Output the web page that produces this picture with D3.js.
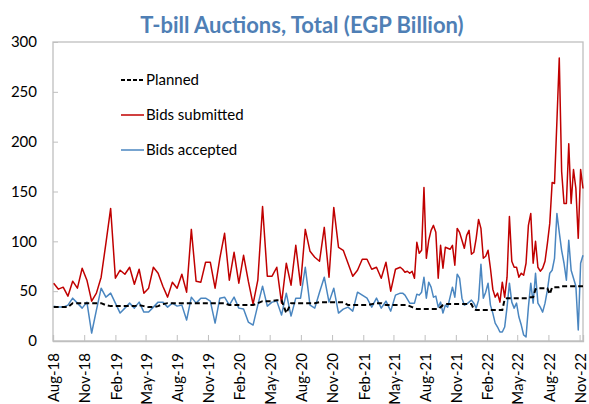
<!DOCTYPE html>
<html lang="en">
<head>
    <title>T-bill Auctions, Total</title>
    <script src="https://d3js.org/d3.v7.min.js" charset="utf-8"></script>
    <style>
        body { margin: 0; background: #fff; }
        text { font-family: Lato, "Open Sans", sans-serif; }
    </style>
</head>
<body>
    <script>
        // Auction values, EGP billion. First part is every two weeks,
        // from late May 2021 the auctions are weekly.
        var biweeklyCount = 74;

        var submitted = [
            58,52,54,45,60,53,73,61,40,48, 64,98,133,63,71,67,74,57,72,48,
            53,74,68,55,44,59,53,67,49,112, 60,59,79,79,53,83,108,61,89,58,
            86,60,37,61,135,65,65,74,38,78, 56,96,56,112,90,84,80,114,64,134,
            94,91,78,65,71,82,82,72,74,63, 79,50,72,74,
            72,69,70,68,70,63,99,88,91,154, 83,101,111,116,109,63,96,73,94,93,
            92,96,76,113,109,101,93,106,111,87, 89,103,122,113,83,85,91,73,
            52,44,48,39,59,44,64,125,80,74, 74,64,68,66,78,116,128,78,100,74,
            70,73,80,98,118,159,158,220,284,170, 138,138,198,138,172,153,103,172,153
        ];

        var accepted = [
            35,34,34,36,43,38,33,39,8,31, 53,44,48,38,28,33,38,33,39,29,
            29,34,39,39,34,38,35,36,21,44, 38,43,43,40,18,43,44,36,44,33,
            32,19,16,36,55,35,39,40,26,48, 25,43,43,74,36,33,49,64,39,53,
            28,32,34,30,49,46,43,34,43,33, 40,30,46,48,
            48,46,42,38,38,38,47,46,49,64, 43,59,54,44,45,34,39,28,36,34,
            44,54,44,67,63,43,36,37,39,41, 38,33,41,77,43,49,58,36,
            28,18,14,9,9,14,34,58,39,33, 38,24,16,6,4,34,58,38,68,38,
            34,29,38,51,68,71,83,128,109,91, 78,61,101,71,63,55,11,78,86
        ];

        var planned = [
            34,34,34,34,38,38,38,38,38,38, 38,36,35,35,35,35,35,35,36,35,
            34,34,35,37,38,38,38,38,38,38, 38,38,38,38,38,38,38,36,36,36,
            36,36,36,38,40,40,40,41,41,28, 38,38,38,38,38,38,39,39,39,39,
            39,39,36,36,36,36,36,37,38,38, 36,36,36,36,
            36,36,36,35,34,33,32,32,32,32, 32,32,32,32,32,32,34,36,37,37,
            37,37,37,37,37,37,37,37,37,37, 32,31,31,31,31,31,31,31,
            31,31,31,31,31,42,43,43,43,43, 43,43,43,43,43,43,44,44,52,53,
            53,53,53,53,47,54,54,54,54,55, 55,55,55,55,55,55,55,55,55
        ];

        var tickLabels = ["Aug-18","Nov-18","Feb-19","May-19","Aug-19","Nov-19",
            "Feb-20","May-20","Aug-20","Nov-20","Feb-21","May-21","Aug-21",
            "Nov-21","Feb-22","May-22","Aug-22","Nov-22"];

        var yTicks = [0, 50, 100, 150, 200, 250, 300];

        var seriesNames = ["Planned", "Bids submitted", "Bids accepted"];

        // Auction dates
        var firstAuction = new Date(2018, 7, 3);
        var dates = submitted.map(function(d, i) {
            var days = i < biweeklyCount ? i * 14 : (biweeklyCount - 1) * 14 + (i - biweeklyCount + 1) * 7;
            return d3.timeDay.offset(firstAuction, days);
        });

        var width = 589;
        var height = 404;
        var plotLeft = 53, plotRight = 583, plotTop = 42, plotBottom = 341;

        var svg = d3.select("body")
            .append("svg")
            .attr("width", width)
            .attr("height", height);

        var x = d3.scaleTime()
            .domain([new Date(2018, 7, 1), dates[dates.length - 1]])
            .range([plotLeft, plotRight]);

        var y = d3.scaleLinear()
            .domain([0, 300])
            .range([plotBottom, plotTop]);

        var tickDates = tickLabels.map(function(d, i) {
            return d3.timeMonth.offset(new Date(2018, 7, 1), i * 3);
        });

        // Title
        svg.append("text")
            .attr("x", 302)
            .attr("y", 33)
            .attr("text-anchor", "middle")
            .attr("font-size", 22)
            .attr("font-weight", "bold")
            .attr("fill", "#4F7FB5")
            .text("T-bill Auctions, Total (EGP Billion)");

        // Plot frame
        svg.append("rect")
            .attr("x", plotLeft)
            .attr("y", plotTop)
            .attr("width", plotRight - plotLeft)
            .attr("height", plotBottom - plotTop)
            .attr("fill", "none")
            .attr("stroke", "#BFBFBF")
            .attr("stroke-width", 1.3);

        // Y axis, ticks pointing inside
        var yAxis = svg.append("g")
            .attr("transform", "translate(" + plotLeft + ",0)")
            .call(d3.axisRight(y).tickValues(yTicks).tickSize(5).tickFormat(""));
        yAxis.select(".domain").remove();
        yAxis.selectAll("line").attr("stroke", "#BFBFBF");

        svg.selectAll(".ylab")
            .data(yTicks)
            .enter()
            .append("text")
            .attr("class", "ylab")
            .attr("x", 37)
            .attr("y", function(d) { return y(d); })
            .attr("dy", "0.35em")
            .attr("text-anchor", "end")
            .attr("font-size", 15)
            .attr("fill", "#000")
            .text(function(d) { return d; });

        // X axis, ticks pointing inside
        var xAxis = svg.append("g")
            .attr("transform", "translate(0," + plotBottom + ")")
            .call(d3.axisTop(x).tickValues(tickDates).tickSize(6).tickFormat(""));
        xAxis.select(".domain").attr("stroke", "#BFBFBF").attr("stroke-width", 1.3);
        xAxis.selectAll("line").attr("stroke", "#BFBFBF");

        svg.selectAll(".xlab")
            .data(tickDates)
            .enter()
            .append("text")
            .attr("class", "xlab")
            .attr("transform", function(d) { return "translate(" + (x(d) + 1) + ",353) rotate(-90)"; })
            .attr("dy", "0.35em")
            .attr("text-anchor", "end")
            .attr("font-size", 15)
            .attr("fill", "#000")
            .text(function(d, i) { return tickLabels[i]; });

        // Lines
        function lineFor(values) {
            return d3.line()
                .x(function(d, i) { return x(dates[i]); })
                .y(function(d) { return y(d); })(values);
        }

        svg.append("path")
            .attr("d", lineFor(submitted))
            .attr("fill", "none")
            .attr("stroke", "#C00000")
            .attr("stroke-width", 1.5)
            .attr("stroke-linejoin", "round");

        svg.append("path")
            .attr("d", lineFor(accepted))
            .attr("fill", "none")
            .attr("stroke", "#4A86C0")
            .attr("stroke-width", 1.5)
            .attr("stroke-linejoin", "round");

        svg.append("path")
            .attr("d", lineFor(planned))
            .attr("fill", "none")
            .attr("stroke", "#000")
            .attr("stroke-width", 2)
            .attr("stroke-dasharray", "5,3");

        // Legend
        var legendStyles = [
            { color: "#000", width: 2, dash: "4,2" },
            { color: "#C00000", width: 1.5, dash: null },
            { color: "#4A86C0", width: 1.5, dash: null }
        ];
        var legendY = [80, 115, 150];

        var legend = svg.selectAll(".legend")
            .data(seriesNames)
            .enter()
            .append("g")
            .attr("class", "legend")
            .attr("transform", function(d, i) { return "translate(121," + legendY[i] + ")"; });

        legend.append("line")
            .attr("x1", 0)
            .attr("x2", 23)
            .attr("stroke", function(d, i) { return legendStyles[i].color; })
            .attr("stroke-width", function(d, i) { return legendStyles[i].width; })
            .attr("stroke-dasharray", function(d, i) { return legendStyles[i].dash; });

        legend.append("text")
            .attr("x", 25)
            .attr("dy", "0.35em")
            .attr("font-size", 15)
            .attr("fill", "#000")
            .text(function(d) { return d; });
    </script>
</body>
</html>
